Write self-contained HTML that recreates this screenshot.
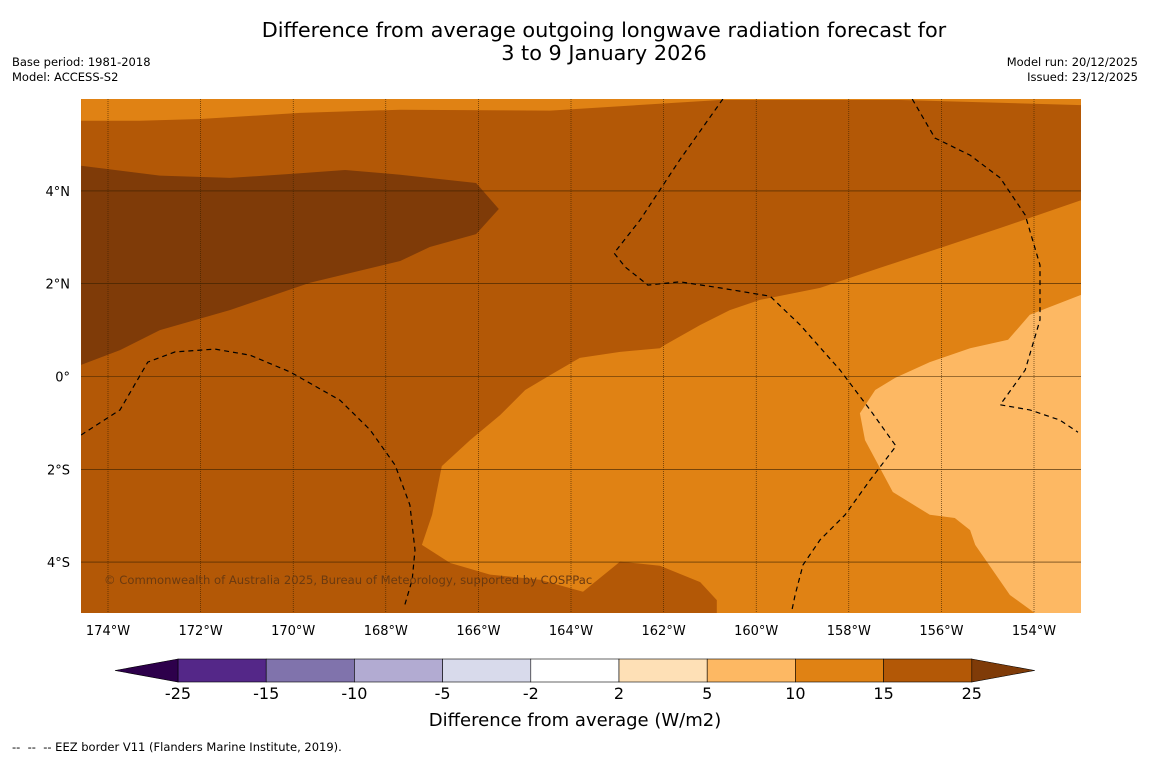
<!DOCTYPE html>
<html><head><meta charset="utf-8">
<style>
body{margin:0;background:#fff;font-family:"Liberation Sans","DejaVu Sans",sans-serif;}
#wrap{position:relative;width:1150px;height:758px;overflow:hidden;background:#fff;}
.t{position:absolute;color:#000;}
</style></head>
<body>
<div id="wrap">
<div class="t" style="left:0;width:1208px;top:19px;text-align:center;font-size:20.8px;line-height:23px;font-family:'DejaVu Sans',sans-serif;">Difference from average outgoing longwave radiation forecast for<br>3 to 9 January 2026</div>
<div class="t" style="left:12px;top:55px;font-size:11.5px;line-height:15px;font-family:'DejaVu Sans',sans-serif;">Base period: 1981-2018<br>Model: ACCESS-S2</div>
<div class="t" style="right:12px;top:55px;font-size:11.5px;line-height:15px;text-align:right;font-family:'DejaVu Sans',sans-serif;">Model run: 20/12/2025<br>Issued: 23/12/2025</div>
<svg id="svg" width="1150" height="758" style="position:absolute;left:0;top:0"></svg>
<div class="t" style="left:12px;top:740px;font-size:11.5px;font-family:'DejaVu Sans',sans-serif;">-- &nbsp;-- &nbsp;-- EEZ border V11 (Flanders Marine Institute, 2019).</div>
</div>
<script>
const lonTicks=[-174,-172,-170,-168,-166,-164,-162,-160,-158,-156,-154];
const lonLabels=["174°W","172°W","170°W","168°W","166°W","164°W","162°W","160°W","158°W","156°W","154°W"];
const latTicks=[4,2,0,-2,-4];
const latLabels=["4°N","2°N","0°","2°S","4°S"];
const cbBounds=[-25,-15,-10,-5,-2,2,5,10,15,25];
const cbColors=["#542788","#8073ac","#b2abd2","#d8daeb","#ffffff","#fee0b6","#fdb863","#e08214","#b35806"];
const cbLow="#2d004b", cbHigh="#7f3b08";
const topBandLon=[-174.58,-152.98,-152.98,-156.89,-160.78,-164.45,-167.69,-169.85,-172.01,-173.31,-174.58];
const topBandLat=[5.98,5.98,5.85,5.96,5.96,5.73,5.75,5.68,5.55,5.51,5.51];
const darkLon=[-174.58,-172.88,-171.37,-169.85,-168.88,-167.69,-166.05,-165.56,-166.05,-167.05,-167.69,-169.64,-171.37,-172.88,-173.74,-174.58];
const darkLat=[4.54,4.33,4.28,4.38,4.45,4.35,4.17,3.61,3.07,2.79,2.49,2.02,1.43,1.00,0.57,0.25];
const orangeLon=[-152.98,-154.73,-156.03,-157.33,-158.62,-159.92,-160.57,-161.21,-161.97,-162.08,-162.94,-163.81,-164.45,-164.99,-165.53,-166.18,-166.79,-167.00,-167.22,-166.61,-165.75,-164.67,-163.74,-162.94,-162.08,-161.21,-160.85,-160.85,-152.98];
const orangeLat=[3.80,3.20,2.77,2.34,1.91,1.65,1.43,1.11,0.68,0.61,0.53,0.40,0.03,-0.29,-0.83,-1.37,-1.93,-2.98,-3.63,-4.02,-4.27,-4.38,-4.64,-3.99,-4.08,-4.43,-4.82,-5.10,-5.10];
const lightLon=[-152.98,-154.09,-154.56,-155.38,-156.25,-157.00,-157.43,-157.76,-157.65,-157.05,-156.25,-155.71,-155.38,-155.27,-154.52,-153.98,-152.98];
const lightLat=[1.76,1.33,0.79,0.61,0.31,-0.03,-0.29,-0.79,-1.37,-2.49,-2.98,-3.05,-3.31,-3.63,-4.71,-5.10,-5.10];
const eez1Lon=[-174.58,-173.74,-173.14,-172.55,-171.69,-170.93,-170.07,-168.99,-168.34,-167.80,-167.48,-167.37,-167.43,-167.61];
const eez1Lat=[-1.26,-0.72,0.31,0.53,0.59,0.46,0.10,-0.51,-1.15,-1.91,-2.77,-3.74,-4.38,-4.99];
const eez2Lon=[-160.72,-161.65,-162.51,-163.07,-162.83,-162.34,-161.65,-160.78,-159.70,-159.05,-158.19,-157.54,-156.98,-157.54,-158.08,-158.62,-158.99,-159.16,-159.23];
const eez2Lat=[5.98,4.67,3.37,2.66,2.36,1.97,2.04,1.91,1.73,1.11,0.14,-0.72,-1.50,-2.23,-2.98,-3.52,-4.06,-4.71,-5.04];
const eez3Lon=[-156.63,-156.14,-155.38,-154.73,-154.19,-153.87,-153.87,-154.19,-154.73,-154.09,-153.44,-153.05];
const eez3Lat=[5.98,5.14,4.77,4.28,3.48,2.40,1.22,0.14,-0.61,-0.72,-0.94,-1.20];

const NS="http://www.w3.org/2000/svg";
const svg=document.getElementById('svg');
const X0=81,X1=1081,Y0=99,Y1=613;
function xs(lon){return 108+(lon+174)*46.3;}
function ys(lat){return 376.5-lat*46.4;}
function mk(tag,attrs){const e=document.createElementNS(NS,tag);for(const k in attrs)e.setAttribute(k,attrs[k]);svg.appendChild(e);return e;}
function pts(lons,lats){return lons.map((l,i)=>xs(l).toFixed(1)+","+ys(lats[i]).toFixed(1)).join(" ");}
const clip=mk('clipPath',{id:'mc'});
const cr=document.createElementNS(NS,'rect');cr.setAttribute('x',X0);cr.setAttribute('y',Y0);cr.setAttribute('width',X1-X0);cr.setAttribute('height',Y1-Y0);clip.appendChild(cr);
const g=mk('g',{'clip-path':'url(#mc)'});


function poly(parent,lons,lats,fill,name){const p=document.createElementNS(NS,'polygon');p.setAttribute('points',pts(lons,lats));p.setAttribute('fill',fill);


parent.appendChild(p);}
const bg=document.createElementNS(NS,'rect');bg.setAttribute('x',X0);bg.setAttribute('y',Y0);bg.setAttribute('width',X1-X0);bg.setAttribute('height',Y1-Y0);bg.setAttribute('fill',cbColors[8]);


g.appendChild(bg);
poly(g,topBandLon,topBandLat,cbColors[7],'anomaly-10-15-top-band');
poly(g,darkLon,darkLat,cbHigh,'anomaly-over-25-region');
poly(g,orangeLon,orangeLat,cbColors[7],'anomaly-10-15-region');
poly(g,lightLon,lightLat,cbColors[6],'anomaly-5-10-region');
lonTicks.forEach(l=>{const ln=document.createElementNS(NS,'line');ln.setAttribute('x1',xs(l));ln.setAttribute('x2',xs(l));ln.setAttribute('y1',Y0);ln.setAttribute('y2',Y1);ln.setAttribute('stroke','#3a2000');ln.setAttribute('stroke-width','0.6');ln.setAttribute('stroke-dasharray','1,1');


g.appendChild(ln);});
latTicks.forEach(l=>{const ln=document.createElementNS(NS,'line');ln.setAttribute('x1',X0);ln.setAttribute('x2',X1);ln.setAttribute('y1',ys(l));ln.setAttribute('y2',ys(l));ln.setAttribute('stroke','#3a2000');ln.setAttribute('stroke-width','0.6');


g.appendChild(ln);});
[[eez1Lon,eez1Lat],[eez2Lon,eez2Lat],[eez3Lon,eez3Lat]].forEach(([a,b])=>{const p=document.createElementNS(NS,'polyline');p.setAttribute('points',pts(a,b));p.setAttribute('fill','none');p.setAttribute('stroke','#000');p.setAttribute('stroke-width','1.2');p.setAttribute('stroke-dasharray','5,4');


g.appendChild(p);});
const cp=document.createElementNS(NS,'text');cp.setAttribute('x',104);cp.setAttribute('y',584);cp.setAttribute('font-size','11.6');cp.setAttribute('fill','#6b3a10');cp.setAttribute('font-family','DejaVu Sans,sans-serif');cp.textContent='© Commonwealth of Australia 2025, Bureau of Meteorology, supported by COSPPac';


g.appendChild(cp);
function txt(x,y,s,size,anchor,name){const t=mk('text',{x:x,y:y,'font-size':size,'text-anchor':anchor,'font-family':'DejaVu Sans,sans-serif',fill:'#000'});t.textContent=s;


return t;}
lonTicks.forEach((l,i)=>txt(xs(l),635,lonLabels[i],13,'middle','lon-tick-label'));
latTicks.forEach((l,i)=>txt(70,ys(l)+5,latLabels[i],13,'end','lat-tick-label'));
const cbX0=178,cbW=88.2,cbY=659,cbH=23;
cbColors.forEach((c,i)=>{const r=mk('rect',{x:cbX0+i*cbW,y:cbY,width:cbW,height:cbH,fill:c,stroke:'#000','stroke-width':0.6});

});
const tl=mk('polygon',{points:`${cbX0},${cbY} ${cbX0-63},${cbY+cbH/2} ${cbX0},${cbY+cbH}`,fill:cbLow,stroke:'#000','stroke-width':0.6});


const xe=cbX0+cbColors.length*cbW;
const th=mk('polygon',{points:`${xe},${cbY} ${xe+63},${cbY+cbH/2} ${xe},${cbY+cbH}`,fill:cbHigh,stroke:'#000','stroke-width':0.6});


cbBounds.forEach((b,i)=>txt(cbX0+i*cbW,699,String(b),16,'middle','colorbar-tick-label'));
txt(575,726,'Difference from average (W/m2)',18,'middle','colorbar-title');
</script>
</body></html>
